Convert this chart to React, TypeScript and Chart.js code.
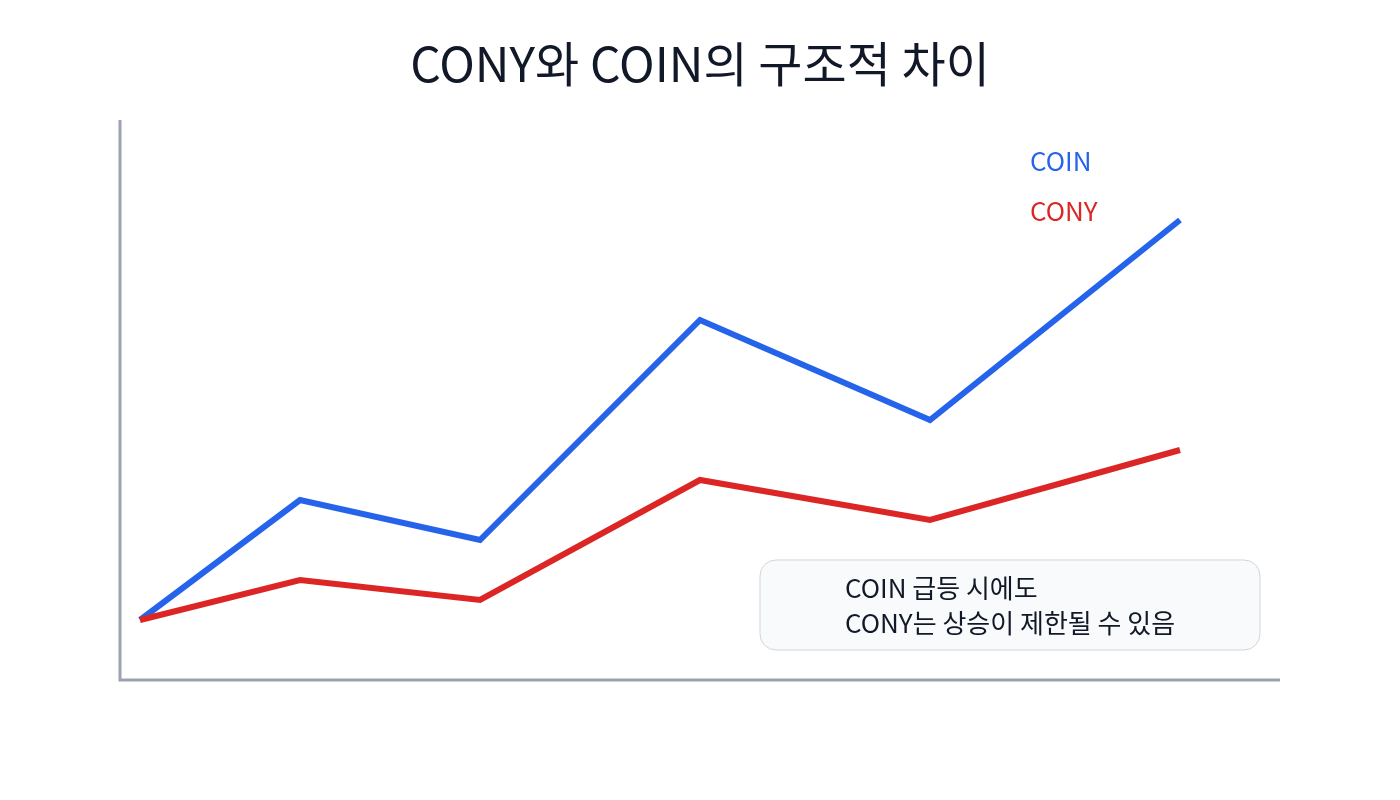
import { useEffect, useRef } from 'react'
import { Chart, registerables } from 'chart.js'
import type { Plugin } from 'chart.js'

Chart.register(...registerables)

const TITLE = 'CONY와 COIN의 구조적 차이'
const X_POS = [20, 180, 360, 580, 810, 1060]
const COIN = [60, 180, 140, 360, 260, 460]
const CONY = [60, 100, 80, 200, 160, 230]
const NOTE_LINES = ['COIN 급등 시에도', 'CONY는 상승이 제한될 수 있음']

const FONT = '"Noto Sans CJK KR", "Noto Sans", sans-serif'
const BLUE = '#2563eb'
const RED = '#dc2626'

const decor: Plugin<'line'> = {
    id: 'decor',
    beforeDatasetsDraw(chart) {
        const { ctx, chartArea: a } = chart
        ctx.save()
        // axes
        ctx.strokeStyle = '#9ca3af'
        ctx.lineWidth = 3
        ctx.beginPath()
        ctx.moveTo(a.left, a.top)
        ctx.lineTo(a.left, a.bottom)
        ctx.lineTo(a.right, a.bottom)
        ctx.stroke()
        ctx.restore()
    },
    afterDraw(chart) {
        const { ctx } = chart
        ctx.save()
        // title
        ctx.fillStyle = '#111827'
        ctx.font = `48px ${FONT}`
        ctx.textAlign = 'center'
        ctx.textBaseline = 'middle'
        ctx.fillText(TITLE, chart.width / 2, 64)

        // legend labels
        ctx.font = `26px ${FONT}`
        ctx.textAlign = 'left'
        ctx.fillStyle = BLUE
        ctx.fillText('COIN', 1030, 161)
        ctx.fillStyle = RED
        ctx.fillText('CONY', 1030, 211)

        // note box
        const bx = 760, by = 560, bw = 500, bh = 90
        ctx.beginPath()
        ctx.roundRect(bx, by, bw, bh, 16)
        ctx.fillStyle = '#f8fafc'
        ctx.fill()
        ctx.strokeStyle = '#d1d5db'
        ctx.lineWidth = 1
        ctx.stroke()
        ctx.fillStyle = '#111827'
        ctx.font = `26px ${FONT}`
        NOTE_LINES.forEach((t, i) => ctx.fillText(t, 845, 588 + i * 35))
        ctx.restore()
    },
}

export default function App() {
    const canvasRef = useRef<HTMLCanvasElement>(null)
    const chartRef = useRef<Chart<'line'> | null>(null)

    useEffect(() => {
        document.body.style.margin = '0'
        if (!canvasRef.current) return
        if (chartRef.current) chartRef.current.destroy()

        chartRef.current = new Chart(canvasRef.current, {
            type: 'line',
            data: {
                datasets: [
                    {
                        label: 'CONY',
                        data: X_POS.map((x, i) => ({ x, y: CONY[i] })),
                        borderColor: RED,
                        borderWidth: 6,
                        pointRadius: 0,
                        tension: 0,
                        fill: false,
                    },
                    {
                        label: 'COIN',
                        data: X_POS.map((x, i) => ({ x, y: COIN[i] })),
                        borderColor: BLUE,
                        borderWidth: 6,
                        pointRadius: 0,
                        tension: 0,
                        fill: false,
                    },
                ],
            },
            options: {
                responsive: false,
                animation: false,
                devicePixelRatio: 1,
                layout: { padding: { left: 120, right: 120, top: 120, bottom: 120 } },
                plugins: {
                    legend: { display: false },
                    title: { display: false },
                    tooltip: { enabled: false },
                },
                scales: {
                    x: { type: 'linear', min: 0, max: 1160, display: false },
                    y: { type: 'linear', min: 0, max: 560, display: false },
                },
            },
            plugins: [decor],
        })

        return () => { chartRef.current?.destroy() }
    }, [])

    return (
        <div style={{ width: 1400, height: 800, background: '#ffffff' }}>
            <canvas ref={canvasRef} width={1400} height={800} />
        </div>
    )
}
